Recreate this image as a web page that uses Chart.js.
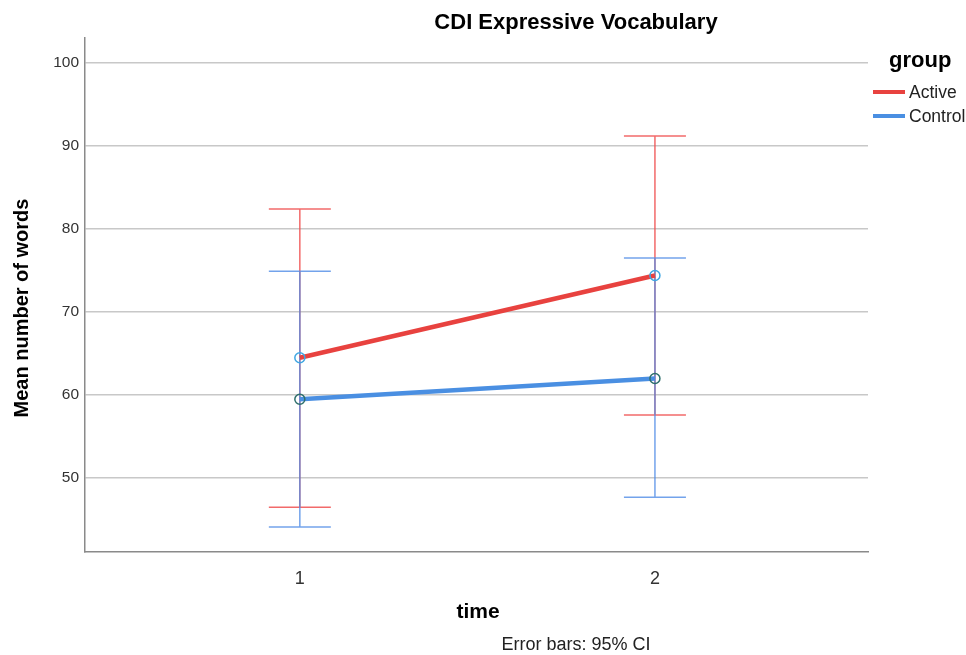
<!DOCTYPE html>
<html><head><meta charset="utf-8">
<script src="https://cdn.jsdelivr.net/npm/chart.js@4"></script>
<style>html,body{margin:0;padding:0;background:#fff}canvas{display:block}</style>
</head><body>
<canvas id="c" width="966" height="655"></canvas>
<script>
const categories = [1, 2];
const activeMean = [64.5, 74.4];
const activeLow = [46.5, 57.6];
const activeHigh = [82.4, 91.2];
const controlMean = [59.5, 62.0];
const controlLow = [44.1, 47.7];
const controlHigh = [74.9, 76.5];
const yTicks = [50, 60, 70, 80, 90, 100];
const seriesNames = ['Active', 'Control'];

const FONT = '"Liberation Sans", Arial, sans-serif';
const RED = '#e8423f', BLUE = '#4a8fe2';
const RED_BAR = 'rgba(240,80,80,0.85)', BLUE_BAR = 'rgba(80,140,230,0.8)';

const errorBars = {
  id: 'errorBars',
  beforeDatasetsDraw(chart) {
    const ctx = chart.ctx, xs = chart.scales.x, ys = chart.scales.y;
    const sets = [
      {low: activeLow, high: activeHigh, color: RED_BAR},
      {low: controlLow, high: controlHigh, color: BLUE_BAR}
    ];
    const cap = 31;
    ctx.save();
    ctx.lineWidth = 1.5;
    sets.forEach(s => {
      ctx.strokeStyle = s.color;
      categories.forEach((c, i) => {
        const x = xs.getPixelForValue(c);
        const yl = ys.getPixelForValue(s.low[i]);
        const yh = ys.getPixelForValue(s.high[i]);
        ctx.beginPath();
        ctx.moveTo(x, yl); ctx.lineTo(x, yh);
        ctx.moveTo(x - cap, yl); ctx.lineTo(x + cap, yl);
        ctx.moveTo(x - cap, yh); ctx.lineTo(x + cap, yh);
        ctx.stroke();
      });
    });
    ctx.restore();
  }
};

const texts = {
  id: 'texts',
  afterDraw(chart) {
    const ctx = chart.ctx, a = chart.chartArea;
    ctx.save();
    ctx.fillStyle = '#000';
    ctx.textAlign = 'center';
    ctx.textBaseline = 'middle';
    ctx.font = 'bold 22px ' + FONT;
    ctx.fillText('CDI Expressive Vocabulary', 576, 23);
    ctx.font = 'bold 21px ' + FONT;
    ctx.fillText('time', 478, 612);
    ctx.font = '18px ' + FONT;
    ctx.fillStyle = '#222';
    ctx.fillText('Error bars: 95% CI', 576, 645);
    ctx.fillStyle = '#000';
    ctx.save();
    ctx.translate(22, 308);
    ctx.rotate(-Math.PI / 2);
    ctx.font = 'bold 20px ' + FONT;
    ctx.fillText('Mean number of words', 0, 0);
    ctx.restore();
    // legend
    ctx.font = 'bold 22px ' + FONT;
    ctx.textAlign = 'left';
    ctx.fillText('group', 889, 61);
    ctx.font = '17.5px ' + FONT;
    ctx.fillStyle = '#222';
    const cols = [RED, BLUE];
    seriesNames.forEach((n, i) => {
      const y = 92 + i * 24;
      ctx.strokeStyle = cols[i];
      ctx.lineWidth = 4;
      ctx.beginPath(); ctx.moveTo(873, y); ctx.lineTo(905, y); ctx.stroke();
      ctx.fillText(n, 909, y + 1);
    });
    ctx.restore();
  }
};

new Chart(document.getElementById('c'), {
  type: 'line',
  data: {
    datasets: [
      {label: seriesNames[0], data: categories.map((c, i) => ({x: c, y: activeMean[i]})),
       borderColor: RED, borderWidth: 4.5, pointRadius: 5, pointBorderWidth: 1.5,
       pointBorderColor: '#3fa6e2', pointBackgroundColor: 'rgba(0,0,0,0)', tension: 0},
      {label: seriesNames[1], data: categories.map((c, i) => ({x: c, y: controlMean[i]})),
       borderColor: BLUE, borderWidth: 4.5, pointRadius: 5, pointBorderWidth: 1.5,
       pointBorderColor: '#2e6f6c', pointBackgroundColor: 'rgba(0,0,0,0)', tension: 0}
    ]
  },
  options: {
    responsive: false,
    animation: false,
    layout: {padding: {top: 38, right: 98, left: 0, bottom: 0}},
    plugins: {legend: {display: false}, title: {display: false}, tooltip: {enabled: false}},
    scales: {
      x: {
        type: 'linear', min: 0.395, max: 2.6,
        afterBuildTicks: s => { s.ticks = categories.map(v => ({value: v})); },
        afterFit: s => { s.height = 103; },
        grid: {display: false, drawTicks: false},
        border: {color: '#8a8a8a', width: 1.5},
        ticks: {color: '#333', font: {size: 18, family: FONT}, padding: 16}
      },
      y: {
        min: 41.1, max: 103.0,
        afterBuildTicks: s => { s.ticks = yTicks.map(v => ({value: v})); },
        afterFit: s => { s.width = 85; },
        grid: {color: '#c8c8c8', lineWidth: 1.5, drawTicks: false},
        border: {color: '#8a8a8a', width: 1.5},
        ticks: {color: '#333', font: {size: 15.5, family: FONT}, padding: 6}
      }
    }
  },
  plugins: [errorBars, texts]
});
</script>
</body></html>
